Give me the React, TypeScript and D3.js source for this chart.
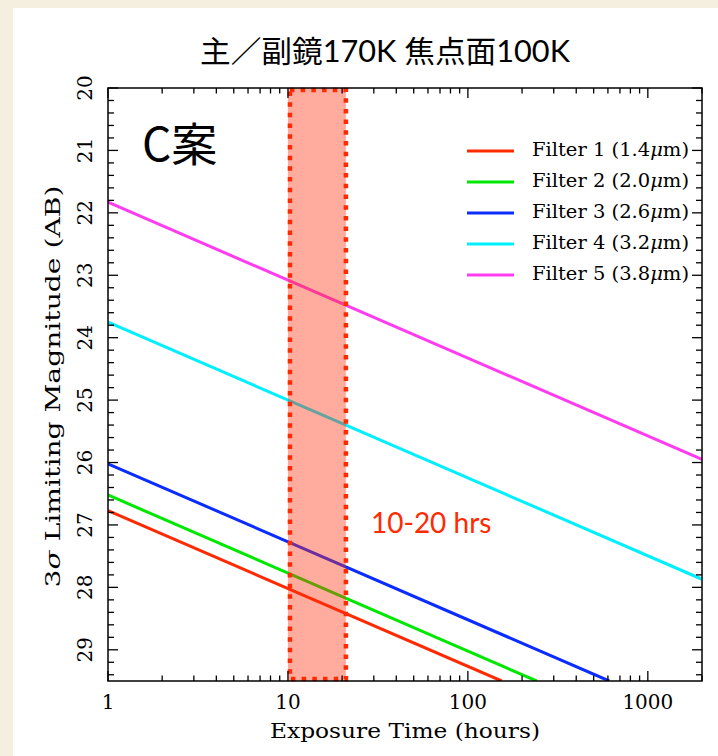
import React from 'react';
import * as d3 from 'd3';

const filterNames = ['1 (1.4', '2 (2.0', '3 (2.6', '4 (3.2', '5 (3.8'];
const startHours = [1, 1, 1, 1, 1];
const endHours = [154, 241, 610, 2000, 2000];
const startMags = [26.77, 26.52, 26.02, 23.75, 21.83];
const endMags = [29.5, 29.5, 29.5, 27.87, 25.95];
const lineColors = ['#ff2a00', '#00e800', '#0a2cff', '#00f0ff', '#ff3cf0'];

const xTicks = [1, 10, 100, 1000];
const yTicks = [20, 21, 22, 23, 24, 25, 26, 27, 28, 29];
const band = [10, 21];

const W = 718;
const H = 756;
const left = 108, right = 702, top = 88, bottom = 681;

const serif = '"DejaVu Serif", "Liberation Serif", serif';

const App = () => {
  const x = d3.scaleLog().domain([1, 2000]).range([left, right]);
  const y = d3.scaleLinear().domain([20, 29.5]).range([top, bottom]);

  const line = d3.line<[number, number]>()
    .x(d => x(d[0]))
    .y(d => y(d[1]));

  // minor ticks
  const xMinor: number[] = [];
  [1, 10, 100, 1000].forEach(dec => {
    for (let k = 2; k <= 9; k++) {
      const v = dec * k;
      if (v <= 2000) xMinor.push(v);
    }
  });
  const yMinor = d3.range(20, 29.51, 0.2).map(v => Math.round(v * 10) / 10)
    .filter(v => Math.abs(v - Math.round(v)) > 0.01);

  const bx0 = x(band[0]);
  const bx1 = x(band[1]);

  return (
    <svg width={W} height={H} style={{ position: 'absolute', left: 0, top: 0, display: 'block' }}>
      <rect x={0} y={0} width={W} height={H} fill="#f4efdf" />
      <rect x={13} y={8} width={W - 13} height={H - 8} fill="#ffffff" />

      <text x={385} y={62} textAnchor="middle" fontSize={30}
        fontFamily='Lato, "Noto Sans CJK JP", sans-serif' textLength={370} lengthAdjust="spacingAndGlyphs">
        主／副鏡170K 焦点面100K
      </text>

      <defs>
        <clipPath id="plot">
          <rect x={left} y={top} width={right - left} height={bottom - top} />
        </clipPath>
      </defs>

      <g clipPath="url(#plot)">
        {startMags.map((m, i) => (
          <path key={i}
            d={line([[startHours[i], m], [endHours[i], endMags[i]]]) || ''}
            fill="none" stroke={lineColors[i]} strokeWidth={3} />
        ))}
      </g>

      {/* 10-20 hrs band */}
      <rect x={bx0} y={top} width={bx1 - bx0} height={bottom - top} fill="#ff3010" fillOpacity={0.4} />
      <rect x={bx0 + 2} y={top + 2} width={bx1 - bx0 - 2} height={bottom - top - 4}
        fill="none" stroke="#ff2a00" strokeWidth={4.5} strokeDasharray="4.5 6.2" />

      {/* frame */}
      <rect x={left} y={top} width={right - left} height={bottom - top} fill="none" stroke="#000" strokeWidth={1.5} />

      {/* x ticks */}
      {xTicks.map(t => (
        <g key={'xt' + t}>
          <line x1={x(t)} x2={x(t)} y1={bottom} y2={bottom - 10} stroke="#000" strokeWidth={1.3} />
          <line x1={x(t)} x2={x(t)} y1={top} y2={top + 10} stroke="#000" strokeWidth={1.3} />
          <text x={x(t)} y={709} textAnchor="middle" fontSize={20} fontFamily={serif}>{t}</text>
        </g>
      ))}
      {xMinor.map(t => (
        <g key={'xm' + t}>
          <line x1={x(t)} x2={x(t)} y1={bottom} y2={bottom - 5.5} stroke="#000" strokeWidth={1.3} />
          <line x1={x(t)} x2={x(t)} y1={top} y2={top + 5.5} stroke="#000" strokeWidth={1.3} />
        </g>
      ))}

      {/* y ticks */}
      {yTicks.map(v => (
        <g key={'yt' + v}>
          <line x1={left} x2={left + 10} y1={y(v)} y2={y(v)} stroke="#000" strokeWidth={1.3} />
          <line x1={right} x2={right - 10} y1={y(v)} y2={y(v)} stroke="#000" strokeWidth={1.3} />
          <text transform={`translate(85,${y(v)}) rotate(-90)`} textAnchor="middle" dy="0.36em"
            fontSize={20} fontFamily={serif}>{v}</text>
        </g>
      ))}
      {yMinor.map(v => (
        <g key={'ym' + v}>
          <line x1={left} x2={left + 6} y1={y(v)} y2={y(v)} stroke="#000" strokeWidth={1.3} />
          <line x1={right} x2={right - 6} y1={y(v)} y2={y(v)} stroke="#000" strokeWidth={1.3} />
        </g>
      ))}

      {/* axis titles */}
      <text x={405} y={738} textAnchor="middle" fontSize={21} fontFamily={serif}
        textLength={270} lengthAdjust="spacingAndGlyphs">Exposure Time (hours)</text>
      <text transform={`translate(53,${(top + bottom) / 2 + 2}) rotate(-90)`} textAnchor="middle" dy="0.36em"
        fontSize={20} fontFamily={serif} textLength={402} lengthAdjust="spacingAndGlyphs">
        3<tspan fontStyle="italic">σ</tspan> Limiting Magnitude (AB)
      </text>

      {/* panel label */}
      <text x={142} y={161} fontSize={46} fontFamily='"Noto Sans CJK JP", sans-serif'>C案</text>

      <text x={371} y={533} fontSize={28} fill="#ff2a00" fontFamily="Lato, sans-serif">10-20 hrs</text>

      {/* legend */}
      {filterNames.map((n, i) => {
        const ly = 151 + i * 31;
        return (
          <g key={'lg' + i}>
            <line x1={467} x2={514} y1={ly} y2={ly} stroke={lineColors[i]} strokeWidth={3} />
            <text x={532} y={ly + 5} fontSize={18} fontFamily={serif} textLength={157} lengthAdjust="spacingAndGlyphs">
              Filter {n}<tspan fontStyle="italic">μ</tspan>m)
            </text>
          </g>
        );
      })}
    </svg>
  );
};

export default App;
